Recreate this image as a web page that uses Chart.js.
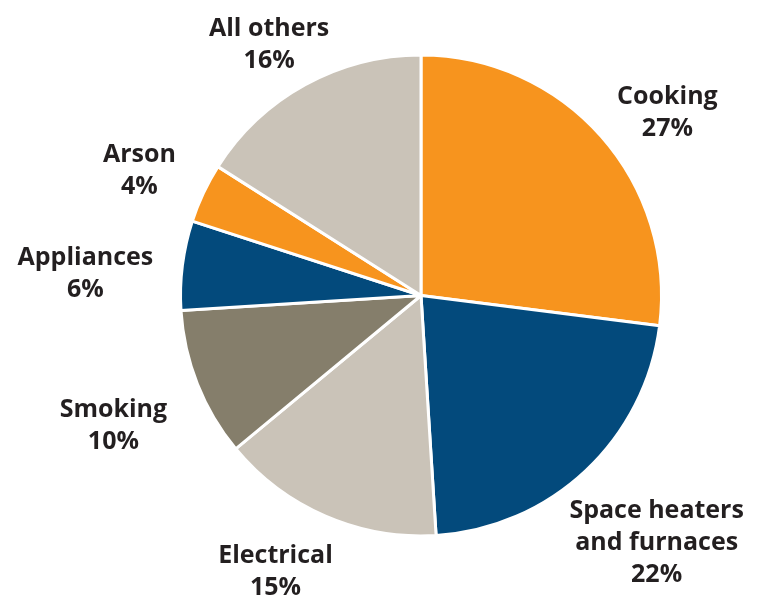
<!DOCTYPE html>
<html>
<head>
<meta charset="utf-8">
<script src="https://cdn.jsdelivr.net/npm/chart.js@4"></script>
<style>
    html, body { margin: 0; padding: 0; background: #fff; }
    #wrap { width: 762px; height: 606px; }
</style>
</head>
<body>
<div id="wrap"><canvas id="firesChart" width="762" height="606"></canvas></div>
<script>
// Causes of home fires, share of total
const categories = [
    ['Cooking'],
    ['Space heaters', 'and furnaces'],
    ['Electrical'],
    ['Smoking'],
    ['Appliances'],
    ['Arson'],
    ['All others'],
];
const shares = [27, 22, 15, 10, 6, 4, 16];
const sliceColors = ['#f7941e', '#034a7c', '#cac3b8', '#857e6b', '#034a7c', '#f7941e', '#cac3b8'];

// label nudge (px) from the slice's outer mid point to the label block centre
const labelNudge = [[66, -25], [71, 70], [-50, 54], [-84, 40], [-97, 7], [-64, -24], [-36, -42]];

/* Outside labels */
const outsideLabels = {
    id: 'outsideLabels',
    afterDatasetsDraw(chart) {
        const { ctx } = chart;
        const arcs = chart.getDatasetMeta(0).data;
        const lineH = 32;
        ctx.save();
        ctx.font = '700 25px "Open Sans"';
        ctx.fillStyle = '#231f20';
        ctx.textAlign = 'center';
        ctx.textBaseline = 'alphabetic';
        arcs.forEach((arc, i) => {
            const { x, y, startAngle, endAngle, outerRadius } = arc.getProps(['x', 'y', 'startAngle', 'endAngle', 'outerRadius'], true);
            const mid = (startAngle + endAngle) / 2;
            const lines = categories[i].concat([shares[i] + '%']);
            const cx = x + Math.cos(mid) * outerRadius + labelNudge[i][0];
            const cy = y + Math.sin(mid) * outerRadius + labelNudge[i][1];
            const top = cy - lines.length * lineH / 2;
            lines.forEach((l, k) => {
                ctx.fillText(l, cx, top + lineH * (k + 0.5) + 9);
            });
        });
        ctx.restore();
    },
};

new Chart(document.getElementById('firesChart'), {
    type: 'pie',
    data: {
        labels: categories.map(c => c.join(' ')),
        datasets: [{
            data: shares,
            backgroundColor: sliceColors,
            borderColor: '#ffffff',
            borderWidth: 3,
        }],
    },
    options: {
        responsive: false,
        animation: false,
        layout: { padding: { top: 53, bottom: 68, left: 179, right: 99 } },
        plugins: {
            legend: { display: false },
            tooltip: { enabled: false },
        },
    },
    plugins: [outsideLabels],
});
</script>
</body>
</html>
